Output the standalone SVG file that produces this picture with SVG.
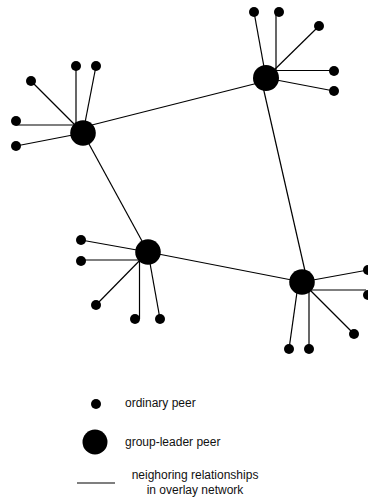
<svg xmlns="http://www.w3.org/2000/svg" width="368" height="500" viewBox="0 0 368 500">
  <style>
    .link { stroke: #000; stroke-width: 1.2; fill: none; }
    .leader { fill: #000; }
    .peer { fill: #000; }
    .label { font-family: "Liberation Sans", Arial, sans-serif; font-size: 12px; fill: #111; }
  </style>
  <rect width="368" height="500" fill="#fff"/>

  <!-- overlay links: leader-to-leader and leader-to-peer -->
  <g id="connectors">
    <line class="link" x1="84" y1="127" x2="266" y2="81"/>
    <line class="link" x1="83" y1="133" x2="148" y2="252"/>
    <line class="link" x1="261" y1="78" x2="307.5" y2="282"/>
    <line class="link" x1="148" y1="252" x2="302" y2="282"/>

    <line class="link" x1="76" y1="66" x2="76" y2="128"/>
    <line class="link" x1="96" y1="66" x2="83" y2="133"/>
    <line class="link" x1="31" y1="81" x2="80" y2="130"/>
    <line class="link" x1="16" y1="125" x2="78" y2="125"/>
    <line class="link" x1="16" y1="146" x2="83" y2="133"/>

    <line class="link" x1="254" y1="12" x2="266" y2="78"/>
    <line class="link" x1="276" y1="12" x2="276" y2="72"/>
    <line class="link" x1="319" y1="26" x2="266" y2="78"/>
    <line class="link" x1="334" y1="70.5" x2="272" y2="70.5"/>
    <line class="link" x1="334" y1="91" x2="266" y2="78"/>

    <line class="link" x1="81" y1="240" x2="148" y2="252"/>
    <line class="link" x1="81" y1="260" x2="142" y2="260"/>
    <line class="link" x1="96" y1="305" x2="148" y2="252"/>
    <line class="link" x1="139.5" y1="319" x2="139.5" y2="260"/>
    <line class="link" x1="160" y1="319" x2="148" y2="252"/>

    <line class="link" x1="368" y1="270" x2="302" y2="282"/>
    <line class="link" x1="302" y1="290" x2="366" y2="290"/>
    <line class="link" x1="354" y1="334" x2="302" y2="282"/>
    <line class="link" x1="289" y1="349" x2="298" y2="285"/>
    <line class="link" x1="309" y1="349" x2="309" y2="285"/>
  </g>

  <!-- group leaders -->
  <g id="leader-a"><circle class="leader" cx="83" cy="133" r="12.8"/></g>
  <g id="leader-b"><circle class="leader" cx="266" cy="78" r="13"/></g>
  <g id="leader-c"><circle class="leader" cx="148" cy="252" r="12.8"/></g>
  <g id="leader-d"><circle class="leader" cx="302" cy="282" r="12.8"/></g>

  <!-- ordinary peers of group A -->
  <g id="peer-a1"><circle class="peer" cx="76" cy="66" r="5"/></g>
  <g id="peer-a2"><circle class="peer" cx="96" cy="66" r="5"/></g>
  <g id="peer-a3"><circle class="peer" cx="31" cy="81" r="5"/></g>
  <g id="peer-a4"><circle class="peer" cx="16" cy="121" r="5"/></g>
  <g id="peer-a5"><circle class="peer" cx="16" cy="146" r="5"/></g>

  <!-- ordinary peers of group B -->
  <g id="peer-b1"><circle class="peer" cx="254" cy="12" r="5"/></g>
  <g id="peer-b2"><circle class="peer" cx="279" cy="12" r="5"/></g>
  <g id="peer-b3"><circle class="peer" cx="319" cy="26" r="5"/></g>
  <g id="peer-b4"><circle class="peer" cx="334" cy="71" r="5"/></g>
  <g id="peer-b5"><circle class="peer" cx="334" cy="91" r="5"/></g>

  <!-- ordinary peers of group C -->
  <g id="peer-c1"><circle class="peer" cx="81" cy="240" r="5"/></g>
  <g id="peer-c2"><circle class="peer" cx="81" cy="261" r="5"/></g>
  <g id="peer-c3"><circle class="peer" cx="96" cy="305" r="5"/></g>
  <g id="peer-c4"><circle class="peer" cx="135" cy="319" r="5"/></g>
  <g id="peer-c5"><circle class="peer" cx="160" cy="319" r="5"/></g>

  <!-- ordinary peers of group D -->
  <g id="peer-d1"><circle class="peer" cx="368" cy="270" r="5"/></g>
  <g id="peer-d2"><circle class="peer" cx="368" cy="295" r="5"/></g>
  <g id="peer-d3"><circle class="peer" cx="354" cy="334" r="5"/></g>
  <g id="peer-d4"><circle class="peer" cx="289" cy="349" r="5"/></g>
  <g id="peer-d5"><circle class="peer" cx="309" cy="349" r="5"/></g>

  <!-- legend -->
  <g id="legend">
    <circle class="peer" cx="96" cy="404" r="5"/>
    <text class="label" x="125" y="407">ordinary peer</text>
    <circle class="leader" cx="95" cy="442" r="12.5"/>
    <text class="label" x="125" y="446">group-leader peer</text>
    <line class="link" x1="77" y1="483" x2="115" y2="483"/>
    <text class="label" x="195" y="479" text-anchor="middle">neighoring relationships</text>
    <text class="label" x="195" y="494" text-anchor="middle">in overlay network</text>
  </g>
</svg>
